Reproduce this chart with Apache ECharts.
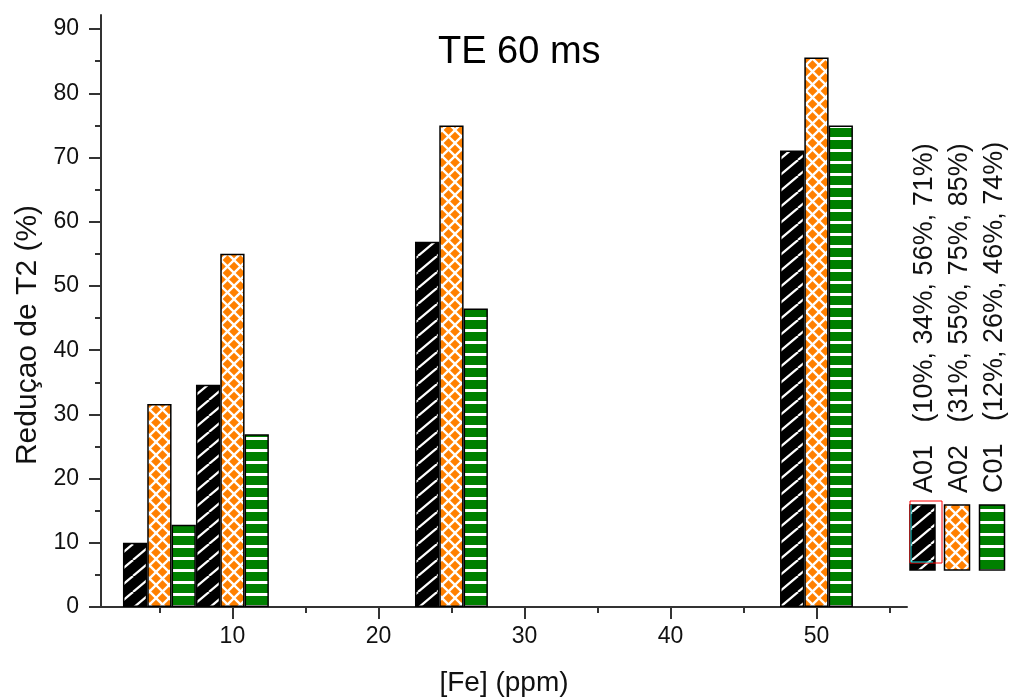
<!DOCTYPE html>
<html><head><meta charset="utf-8">
<script src="https://cdn.jsdelivr.net/npm/echarts@6/dist/echarts.min.js"></script>
<style>html,body{margin:0;padding:0;background:#fff}#c{width:1009px;height:697px}</style>
</head><body><div id="c"></div>
<script>
// ---- data ----
const feValues = [5, 10, 25, 50];
const seriesNames = ['A01', 'A02', 'C01'];
const a01 = [10, 34.6, 56.9, 71.1];
const a02 = [31.6, 55, 75, 85.6];
const c01 = [12.8, 26.9, 46.5, 75];
const legendLabels = ['A01   (10%, 34%, 56%, 71%)', 'A02   (31%, 55%, 75%, 85%)', 'C01   (12%, 26%, 46%, 74%)'];
const xMajorTicks = [10, 20, 30, 40, 50];
const xMinorTicks = [5, 15, 25, 35, 45, 55];
const yMajorTicks = [0, 10, 20, 30, 40, 50, 60, 70, 80, 90];
const yMinorTicks = [5, 15, 25, 35, 45, 55, 65, 75, 85];
const titleText = 'TE 60 ms';
const xName = '[Fe] (ppm)';
const yName = 'Reduçao de T2 (%)';

const FONT = "'Liberation Sans', Arial, sans-serif";

function makePattern(w, h, bg, draw) {
  const c = document.createElement('canvas');
  c.width = w; c.height = h;
  const g = c.getContext('2d');
  g.fillStyle = bg; g.fillRect(0, 0, w, h);
  g.strokeStyle = '#fff'; g.fillStyle = '#fff';
  draw(g, w, h);
  return { image: c, repeat: 'repeat' };
}
const patDiag = makePattern(19, 16, '#000', (g, w, h) => {
  g.lineWidth = 2.2;
  for (const o of [-w, 0, w]) { g.beginPath(); g.moveTo(o, h); g.lineTo(o + w, 0); g.stroke(); }
});
const patCross = makePattern(13, 13, '#ff8000', (g, w, h) => {
  g.lineWidth = 2.3;
  for (const o of [-w, 0, w]) {
    g.beginPath(); g.moveTo(o, 0); g.lineTo(o + w, h); g.stroke();
    g.beginPath(); g.moveTo(o, h); g.lineTo(o + w, 0); g.stroke();
  }
});
const patHoriz = makePattern(12, 12, '#008000', (g, w, h) => {
  g.fillRect(0, 5, w, 3);
});
const patterns = [patDiag, patCross, patHoriz];
const seriesValues = [a01, a02, c01];

const axisColor = '#333';
const labelColor = '#111';

const series = seriesNames.map((name, s) => ({
  name, type: 'bar', xAxisIndex: 0, yAxisIndex: 0,
  barWidth: 24.3, barGap: 0,
  data: feValues.map((x, i) => [x, seriesValues[s][i]]),
  itemStyle: { color: patterns[s], borderColor: '#000', borderWidth: 1.5 },
  emphasis: { disabled: true }
}));

const legendGraphics = [];
const swX = [910, 944.5, 979.5];
const txX = [924.5, 959.5, 994.5];
seriesNames.forEach((n, i) => {
  legendGraphics.push({ type: 'rect', shape: { x: swX[i], y: 505, width: 25, height: 65 },
    style: { fill: patterns[i], stroke: '#000', lineWidth: 1.5 } });
  legendGraphics.push({ type: 'text', x: txX[i], y: 493, rotation: Math.PI / 2,
    style: { text: legendLabels[i], fontSize: 27, fontFamily: FONT, fill: '#111', align: 'left', verticalAlign: 'middle' } });
});
legendGraphics.push({ type: 'rect', shape: { x: 910, y: 501, width: 32, height: 62 }, style: { fill: 'none', stroke: '#ff0000', lineWidth: 1 } });
legendGraphics.push({ type: 'polyline', shape: { points: [[911, 505], [911, 562], [933, 562]] }, style: { fill: 'none', stroke: '#00e0e0', lineWidth: 1 } });
legendGraphics.push({ type: 'text', x: 28, y: 335, rotation: Math.PI / 2,
  style: { text: yName, fontSize: 30, fontFamily: FONT, fill: '#111', align: 'center', verticalAlign: 'middle' } });

const chart = echarts.init(document.getElementById('c'), null, { renderer: 'canvas' });
chart.setOption({
  animation: false,
  backgroundColor: '#fff',
  title: { text: titleText, left: 433, top: 29, textStyle: { fontSize: 38, fontWeight: 'normal', color: '#000', fontFamily: FONT } },
  grid: { left: 101, right: 102, top: 15, bottom: 90, containLabel: false, outerBoundsMode: 'none' },
  xAxis: [
    { type: 'value', min: 1, max: 56.2, position: 'bottom',
      axisLine: { show: true, onZero: false, lineStyle: { color: axisColor, width: 2 } },
      axisTick: { show: true, length: 12, customValues: xMajorTicks, lineStyle: { color: axisColor, width: 2 } },
      axisLabel: { customValues: xMajorTicks, fontSize: 23, color: labelColor, margin: 18, fontFamily: FONT },
      splitLine: { show: false },
      name: xName, nameLocation: 'middle', nameGap: 62,
      nameTextStyle: { fontSize: 28, color: '#111', fontFamily: FONT } },
    { type: 'value', min: 1, max: 56.2, position: 'bottom',
      axisLine: { show: false, onZero: false },
      axisTick: { show: true, length: 6, customValues: xMinorTicks, lineStyle: { color: axisColor, width: 2 } },
      axisLabel: { show: false }, splitLine: { show: false } }
  ],
  yAxis: [
    { type: 'value', min: 0, max: 92.2, position: 'left',
      axisLine: { show: true, onZero: false, lineStyle: { color: axisColor, width: 2 } },
      axisTick: { show: true, length: 12, customValues: yMajorTicks, lineStyle: { color: axisColor, width: 2 } },
      axisLabel: { customValues: yMajorTicks, fontSize: 23, color: labelColor, margin: 22, fontFamily: FONT },
      splitLine: { show: false } },
    { type: 'value', min: 0, max: 92.2, position: 'left',
      axisLine: { show: false, onZero: false },
      axisTick: { show: true, length: 6, customValues: yMinorTicks, lineStyle: { color: axisColor, width: 2 } },
      axisLabel: { show: false }, splitLine: { show: false } }
  ],
  series,
  graphic: legendGraphics
});
</script></body></html>
